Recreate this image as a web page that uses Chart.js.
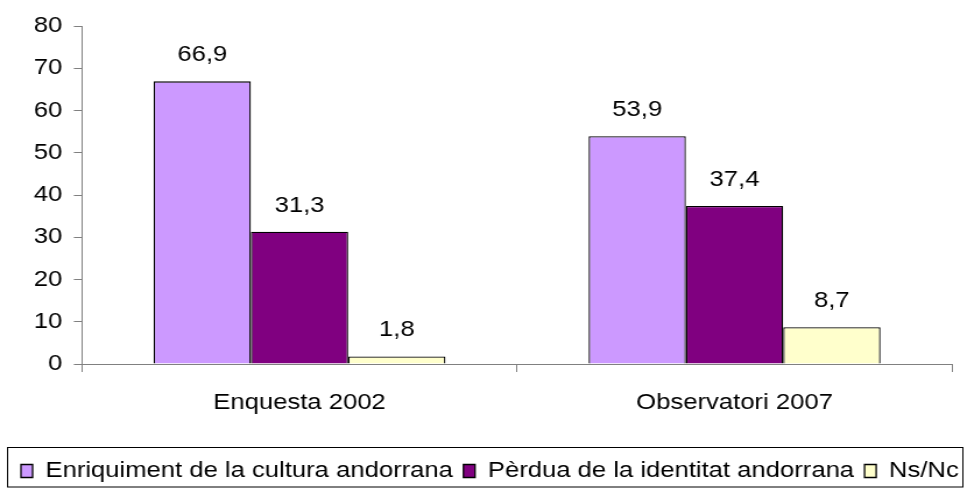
<!DOCTYPE html>
<html>
<head>
<meta charset="utf-8">
<script src="https://cdn.jsdelivr.net/npm/chart.js@4.4.0/dist/chart.umd.min.js"></script>
<style>
html, body { margin: 0; padding: 0; background: #fff; overflow: hidden; }
/* the reference is stretched horizontally, so the chart is drawn narrower and scaled */
#wrap { position: absolute; left: 0; top: 0; width: 850px; height: 488px; transform: scaleX(1.165); transform-origin: 0 0; }
</style>
</head>
<body>
<div id="wrap"><canvas id="myChart"></canvas></div>
<script>
// Chart data
var categories = ['Enquesta 2002', 'Observatori 2007'];
var seriesNames = ['Enriquiment de la cultura andorrana', 'Pèrdua de la identitat andorrana', 'Ns/Nc'];
var enriquiment = [66.9, 53.9];
var perdua = [31.3, 37.4];
var nsnc = [1.8, 8.7];
var yTicks = [0, 10, 20, 30, 40, 50, 60, 70, 80];

Chart.defaults.font.family = '"Liberation Sans", Arial, sans-serif';
Chart.defaults.font.size = 22;
Chart.defaults.color = '#000';

// Write the value above each bar, with a comma as decimal mark
var valueLabels = {
    id: 'valueLabels',
    afterDatasetsDraw: function(chart) {
        var ctx = chart.ctx;
        ctx.save();
        ctx.font = '22px "Liberation Sans", Arial, sans-serif';
        ctx.fillStyle = '#000';
        ctx.textAlign = 'center';
        ctx.textBaseline = 'alphabetic';
        chart.data.datasets.forEach(function(ds, i) {
            chart.getDatasetMeta(i).data.forEach(function(bar, j) {
                ctx.fillText(ds.data[j].toFixed(1).replace('.', ','), bar.x, bar.y - 20);
            });
        });
        ctx.restore();
    }
};

// Frame round the legend
var legendFrame = {
    id: 'legendFrame',
    afterDraw: function(chart) {
        var ctx = chart.ctx;
        ctx.save();
        ctx.strokeStyle = '#000';
        ctx.lineWidth = 1;
        ctx.strokeRect(6.5, 447.5, 820, 39.5);
        ctx.restore();
    }
};

function barSet(label, data, color) {
    return {
        label: label,
        data: data,
        backgroundColor: color,
        borderColor: '#000',
        borderWidth: 1.3,
        categoryPercentage: 0.671,
        barPercentage: 1
    };
}

var ctx = document.getElementById('myChart').getContext('2d');
var myChart = new Chart(ctx, {
    type: 'bar',
    data: {
        labels: categories,
        datasets: [
            barSet(seriesNames[0], enriquiment, '#CC99FF'),
            barSet(seriesNames[1], perdua, '#800080'),
            barSet(seriesNames[2], nsnc, '#FFFFCC')
        ]
    },
    plugins: [valueLabels, legendFrame],
    options: {
        responsive: true,
        maintainAspectRatio: false,
        animation: false,
        layout: { padding: { left: 9, right: 0, top: 26, bottom: -4 } },
        scales: {
            x: {
                grid: { drawOnChartArea: false, tickLength: 8, color: '#808080', offset: true },
                border: { color: '#808080', width: 1 },
                ticks: { padding: 18, color: '#000' },
                afterFit: function(scale) { scale.height = 87; }
            },
            y: {
                min: yTicks[0],
                max: yTicks[yTicks.length - 1],
                ticks: { stepSize: yTicks[1] - yTicks[0], padding: 10, color: '#000' },
                grid: { drawOnChartArea: false, tickLength: 7, color: '#808080' },
                border: { color: '#808080', width: 1 },
                afterFit: function(scale) { scale.width = 61.4; }
            },
            // empty axis on the right, only to keep the plot off the right edge
            gap: {
                type: 'linear',
                position: 'right',
                grid: { display: false },
                border: { display: false },
                ticks: { display: false },
                afterFit: function(scale) { scale.width = 32.8; }
            }
        },
        plugins: {
            legend: {
                position: 'bottom',
                align: 'start',
                labels: { boxWidth: 10, boxHeight: 13, padding: 9, color: '#000' }
            },
            tooltip: { enabled: false }
        }
    }
});
</script>
</body>
</html>
